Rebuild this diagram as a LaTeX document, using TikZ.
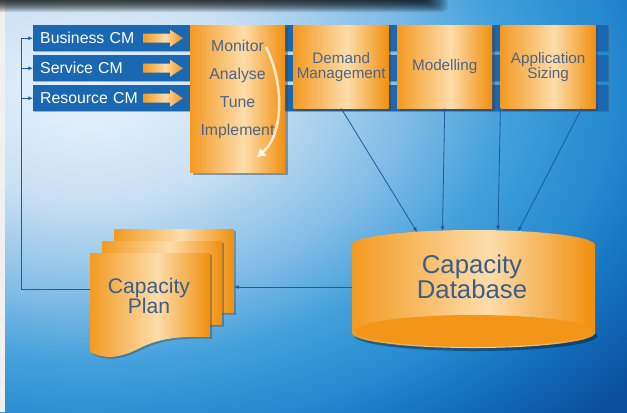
\documentclass[tikz,border=0pt]{standalone}
\usepackage{fontspec}
\setmainfont{Liberation Sans}
\usepackage{xcolor}
\usepackage{tikz}
\usetikzlibrary{arrows.meta,positioning,shadows,calc}

\definecolor{bgA}{HTML}{EAF3FB}
\definecolor{bgB}{HTML}{C9E0F3}
\definecolor{bgC}{HTML}{85BEE7}
\definecolor{bgD}{HTML}{419FDB}
\definecolor{bgE}{HTML}{2589CF}
\definecolor{bgF}{HTML}{1571BE}
\definecolor{bgG}{HTML}{0B509E}
\definecolor{orD}{HTML}{F39A22}
\definecolor{orL}{HTML}{FDDDAA}
\definecolor{orR}{HTML}{F08F0E}
\definecolor{orFace}{HTML}{F29519}
\definecolor{barblue}{HTML}{1A68B2}
\definecolor{lineblue}{HTML}{1E5C9C}
\definecolor{boxtxt}{HTML}{4C6488}
\definecolor{dbtxt}{HTML}{3A5E8B}

\pgfdeclarehorizontalshading{orangeshade}{100bp}{color(0bp)=(orD); color(25bp)=(orD); color(53bp)=(orL); color(75bp)=(orR); color(100bp)=(orR)}
\pgfdeclareradialshading{bgglow}{\pgfpoint{0bp}{0bp}}{color(0bp)=(bgA); color(4.8bp)=(bgB); color(8.8bp)=(bgC); color(12bp)=(bgD); color(15bp)=(bgE); color(17bp)=(bgF); color(20bp)=(bgG); color(50bp)=(bgG)}

\begin{document}
\begin{tikzpicture}[x=0.03cm,y=-0.03cm,
  obox/.style={shade, shading=orangeshade, drop shadow={shadow xshift=2pt,shadow yshift=-2pt,opacity=.45,fill=black!75},
    minimum width=2.85cm, minimum height=2.49cm, inner sep=0pt, align=center, text=boxtxt,
    font=\fontsize{13}{13}\selectfont},
  cmbar/.style={fill=barblue, drop shadow={shadow xshift=1pt,shadow yshift=-1pt,opacity=.4,fill=black!70},
    minimum width=17.25cm, minimum height=0.78cm, inner xsep=0.21cm, inner ysep=0pt,
    text width=16.83cm, align=left, text=white, font=\fontsize{13.5}{14}\selectfont, anchor=north west},
  conn/.style={draw=lineblue, line width=0.7pt},
  tip/.style={-{Latex[length=4pt,width=3.5pt]}},
  doc/.style={shade, shading=orangeshade, drop shadow={shadow xshift=1.5pt,shadow yshift=-1.5pt,opacity=.4,fill=black!75}},
]
  \useasboundingbox (0,0) rectangle (627,412);
  % background
  \begin{scope}
    \clip (0,0) rectangle (627,412);
    \shade[shading=bgglow] (90,90) ellipse [x radius=875, y radius=575];
    \fill[white!94!black] (0,0) rectangle (5,412);
    \foreach \k in {0,...,11}
      \fill[black, opacity=.1, rounded corners=5] (-10,-10) rectangle (448-2*\k, 12-\k);
  \end{scope}

  % the three CM rows
  \node[cmbar] (bus) at (33,25) {Business CM};
  \node[cmbar] (svc) at (33,55) {Service CM};
  \node[cmbar] (res) at (33,85) {Resource CM};
  \foreach \b in {bus,svc,res}{
    \begin{scope}[shift={(\b.west)}]
      \shade[shading=orangeshade] (110,-4.5) -- (137,-4.5) -- (137,-8.5) -- (150,0) -- (137,8.5) -- (137,4.5) -- (110,4.5) -- cycle;
    \end{scope}
  }

  % process boxes
  \node[obox, minimum height=4.41cm, anchor=north west] (mon) at (190,25) {};
  \node[text=boxtxt, align=center, font=\fontsize{13.5}{23.9}\selectfont] (steps) at (237.5,89) {Monitor\\Analyse\\Tune\\Implement};
  \draw[white, opacity=.75, line width=2.2pt, -{Triangle[length=7pt,width=8pt]}] (266,47) .. controls (285,85) and (283,135) .. (257,157);
  \node[obox, right=0.24cm of mon.north east, anchor=north west] (dem) {Demand\\Management};
  \node[obox, right=0.24cm of dem.north east, anchor=north west] (mod) {Modelling};
  \node[obox, right=0.24cm of mod.north east, anchor=north west] (app) {Application\\Sizing};

  % capacity database
  \fill[black, opacity=.35] (476,336) ellipse [x radius=121.5, y radius=15];
  \shade[shading=orangeshade] (473.5,333) ellipse [x radius=121.5, y radius=15];
  \shade[shading=orangeshade] (352,245) rectangle (595,333);
  \fill[orFace] (473.5,331) ellipse [x radius=119, y radius=16];
  \shade[shading=orangeshade] (473.5,245) ellipse [x radius=121.5, y radius=15];
  \node[text=dbtxt, align=center, font=\fontsize{22}{21.3}\selectfont] (db) at (472,277) {Capacity\\Database};
  \coordinate (dbA) at (417,232);
  \coordinate (dbB) at (442.5,231);
  \coordinate (dbC) at (498,230.5);
  \coordinate (dbD) at (518,231.5);
  \coordinate (dbL) at (352,287);

  % capacity plan
  \foreach \s in {24,12,0}{
    \begin{scope}[shift={(\s,-\s)}]
      \path[doc] (90,253) -- (210,253) -- (210,337) .. controls (180,336) and (160,338) .. (140,348)
        .. controls (120,358) and (105,360) .. (90,352) -- cycle;
    \end{scope}
  }
  \node[text=dbtxt, align=center, font=\fontsize{18}{14.5}\selectfont] (plan) at (149,296) {Capacity\\Plan};
  \coordinate (planR) at (234,287);
  \coordinate (planL) at (90,289);
  \coordinate (fbx) at (21,0);

  % connectors
  \draw[conn,tip] (dem.south) -- (dbA);
  \draw[conn,tip] (mod.south) -- (dbB);
  \draw[conn,tip] (app.south west) -- (dbC);
  \draw[conn,tip] ($(app.south)!0.7!(app.south east)$) -- (dbD);
  \draw[conn,tip] (dbL) -- (planR);
  \draw[conn,tip] (planL) -| (fbx |- bus.west) -- (bus.west);
  \draw[conn,tip] (fbx |- svc.west) -- (svc.west);
  \draw[conn,tip] (fbx |- res.west) -- (res.west);
\end{tikzpicture}
\end{document}
